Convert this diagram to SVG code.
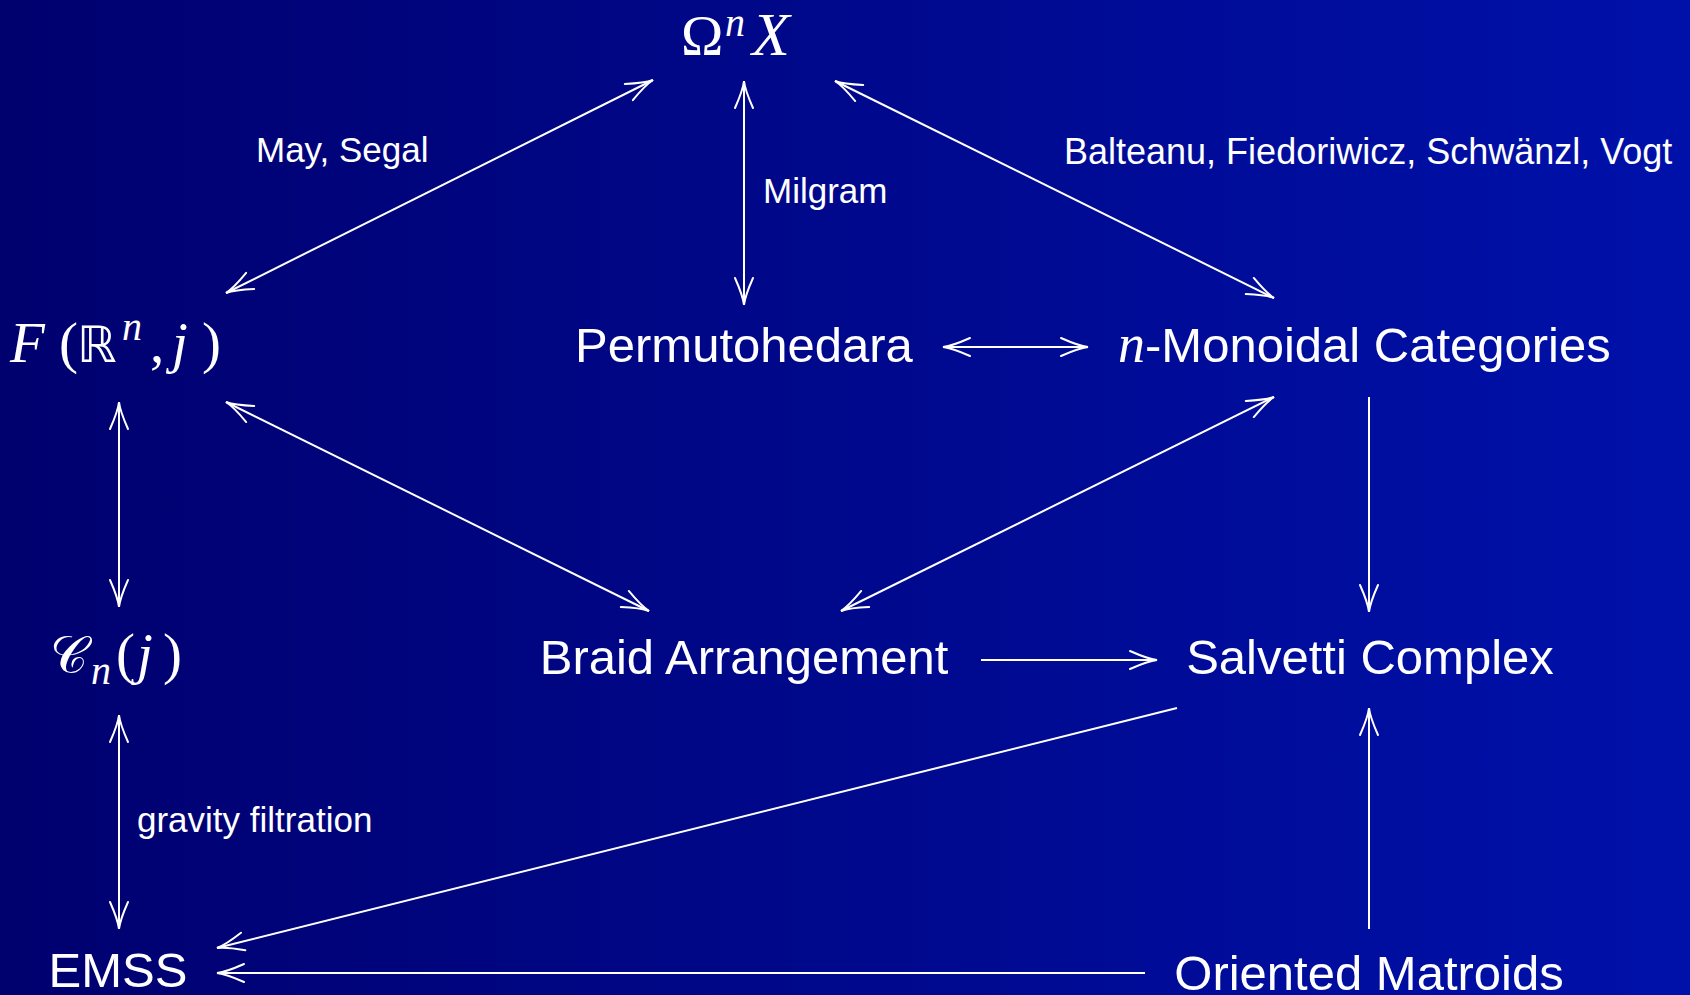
<svg xmlns="http://www.w3.org/2000/svg" width="1690" height="995" viewBox="0 0 1690 995">
<defs>
<linearGradient id="bg" x1="0" y1="0" x2="1" y2="0">
<stop offset="0" stop-color="#00006e"/>
<stop offset="1" stop-color="#0011aa"/>
</linearGradient>
<marker id="ah" markerUnits="userSpaceOnUse" viewBox="-30 -12 32 24" refX="0" refY="0" markerWidth="32" markerHeight="24" orient="auto-start-reverse">
<path d="M -27 -9 Q -9 -1 0 0 Q -9 1 -27 9" fill="none" stroke="#ffffff" stroke-width="2" stroke-linecap="round"/>
</marker>
<style>
.node{font-family:"Liberation Sans",Arial,sans-serif;font-size:49px;fill:#ffffff;text-anchor:middle}
.math{font-family:"Liberation Serif","DejaVu Serif",serif;font-size:57px;fill:#ffffff}
.it{font-style:italic}
.lbl{font-family:"Liberation Sans",Arial,sans-serif;font-size:35px;fill:#ffffff}
.c line{stroke:#ffffff;stroke-width:2;fill:none}
.d{marker-start:url(#ah);marker-end:url(#ah)}
.s{marker-end:url(#ah)}
</style>
</defs>
<rect x="0" y="0" width="1690" height="995" fill="url(#bg)"/>
<g class="c" id="connectors">
<line class="d" x1="226" y1="293" x2="653" y2="80"/>
<line class="d" x1="744" y1="81" x2="744" y2="305"/>
<line class="d" x1="835" y1="81" x2="1274" y2="298"/>
<line class="d" x1="943" y1="347" x2="1088" y2="347"/>
<line class="d" x1="119" y1="402" x2="119" y2="607"/>
<line class="d" x1="226" y1="402" x2="649" y2="611"/>
<line class="d" x1="1274" y1="397" x2="841" y2="611"/>
<line class="s" x1="1369" y1="397" x2="1369" y2="612"/>
<line class="s" x1="981" y1="660" x2="1157" y2="660"/>
<line class="d" x1="119" y1="715" x2="119" y2="929"/>
<line class="s" x1="1177" y1="708" x2="217" y2="948"/>
<line class="s" x1="1145" y1="973" x2="217" y2="973"/>
<line class="s" x1="1369" y1="929" x2="1369" y2="708"/>
</g>
<g id="labels">
<text class="lbl" x="256" y="162">May, Segal</text>
<text class="lbl" x="763" y="203">Milgram</text>
<text class="lbl" x="1064" y="164" style="font-size:36px">Balteanu, Fiedoriwicz, Schwänzl, Vogt</text>
<text class="lbl" x="137" y="832">gravity filtration</text>
</g>
<g id="omega">
<text class="math" y="55"><tspan x="681">Ω</tspan><tspan x="725" y="36" class="it" style="font-size:40px">n</tspan><tspan x="752" y="55" class="it" style="font-size:62px">X</tspan></text>
</g>
<g id="config">
<text class="math" y="362"><tspan x="10" class="it">F</tspan><tspan x="59">(</tspan><tspan x="77" style="font-family:'DejaVu Sans',sans-serif;font-size:50px">ℝ</tspan><tspan x="122" y="340" class="it" style="font-size:40px">n</tspan><tspan x="150" y="362">,</tspan><tspan x="172" class="it">j</tspan><tspan x="202">)</tspan></text>
</g>
<g id="little-cubes">
<text class="math" y="673"><tspan x="50" style="font-size:52px">𝒞</tspan><tspan x="91" y="684" class="it" style="font-size:40px">n</tspan><tspan x="116" y="673">(</tspan><tspan x="137" class="it">j</tspan><tspan x="163">)</tspan></text>
</g>
<g id="permutohedara"><text class="node" x="744" y="362">Permutohedara</text></g>
<g id="monoidal"><text class="node" x="1118" y="362" style="text-anchor:start"><tspan class="it" style="font-family:'Liberation Serif',serif;font-size:54px">n</tspan>-Monoidal Categories</text></g>
<g id="braid"><text class="node" x="744" y="674">Braid Arrangement</text></g>
<g id="salvetti"><text class="node" x="1370" y="674">Salvetti Complex</text></g>
<g id="emss"><text class="node" x="118" y="987">EMSS</text></g>
<g id="matroids"><text class="node" x="1369" y="990">Oriented Matroids</text></g>
</svg>
